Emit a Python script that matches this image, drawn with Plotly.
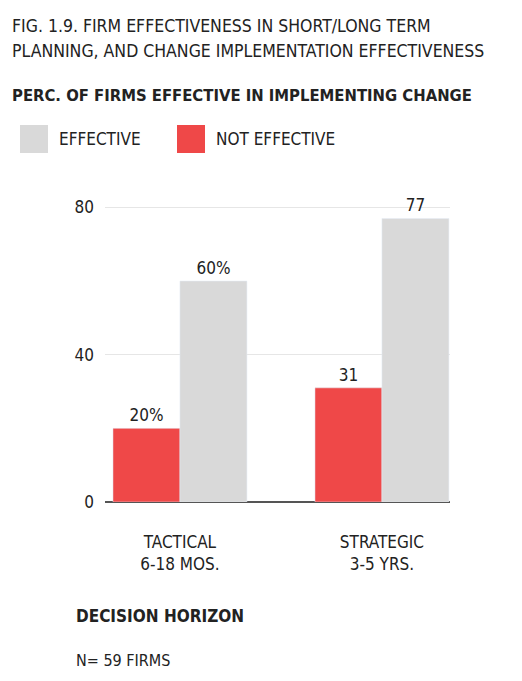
import plotly.graph_objects as go

categories = ["TACTICAL<br>6-18 MOS.", "STRATEGIC<br>3-5 YRS."]
not_effective = [20, 31]
effective = [60, 77]
not_eff_labels = ["20%", "31"]
eff_labels = ["60%", "77"]

RED = "#ef4848"
GRAY = "#d9d9d9"
FONT = "DejaVu Sans Condensed, Liberation Sans Narrow, DejaVu Sans, sans-serif"

OFF = 8  # page body margin
L, R, T, B = 105 - OFF, 450 - OFF, 189 - OFF, 502 - OFF
def px(x): return (x - OFF - L) / (R - L)
def py(y): return (B - (y - OFF)) / (B - T)

fig = go.Figure()
fig.add_trace(go.Bar(x=categories, y=not_effective, marker_color=RED, text=not_eff_labels,
                     textposition="outside", textfont=dict(size=17, color="#222"), cliponaxis=False))
fig.add_trace(go.Bar(x=categories, y=effective, marker_color=GRAY, text=eff_labels,
                     textposition="outside", textfont=dict(size=17, color="#222"), cliponaxis=False))

# manual legend
for x0, col, label in [(20, GRAY, "EFFECTIVE"), (177, RED, "NOT EFFECTIVE")]:
    fig.add_shape(type="rect", xref="paper", yref="paper", x0=px(x0), x1=px(x0 + 28),
                  y0=py(153), y1=py(125), fillcolor=col, line_width=0)
    fig.add_annotation(xref="paper", yref="paper", x=px(x0 + 37), y=py(139), text=label,
                       showarrow=False, xanchor="left", yanchor="middle",
                       font=dict(size=17, color="#222", family=FONT))

texts = [
    (10, 26, "FIG. 1.9. FIRM EFFECTIVENESS IN SHORT/LONG TERM", 17.5),
    (10, 51, "PLANNING, AND CHANGE IMPLEMENTATION EFFECTIVENESS", 17.5),
    (10, 95, "<b>PERC. OF FIRMS EFFECTIVE IN IMPLEMENTING CHANGE</b>", 16.5),
    (74, 616, "<b>DECISION HORIZON</b>", 17),
    (74, 660, "N= 59 FIRMS", 16),
]
for x, y, t, s in texts:
    fig.add_annotation(xref="paper", yref="paper", x=px(x), y=py(y), text=t, showarrow=False,
                       xanchor="left", yanchor="middle", font=dict(size=s, color="#222", family=FONT))

fig.update_layout(
    width=522 - 2 * OFF, height=681 - 2 * OFF, barmode="group", bargap=0.337, bargroupgap=0,
    margin=dict(l=L, r=522 - 2 * OFF - R, t=T, b=681 - 2 * OFF - B), showlegend=False,
    plot_bgcolor="white", paper_bgcolor="white",
    font=dict(family=FONT, size=17, color="#222"),
    xaxis=dict(range=[-0.371, 1.337], showgrid=False, ticks="", tickfont=dict(size=17),
               showline=False, ticklabelstandoff=28),
    yaxis=dict(range=[0, 85], tickvals=[0, 40, 80], gridcolor="#e6e6e6", zeroline=True,
               zerolinecolor="#555", zerolinewidth=1.5, ticks="", tickfont=dict(size=17),
               ticklabelstandoff=10),
)
fig.write_html("out.html")
